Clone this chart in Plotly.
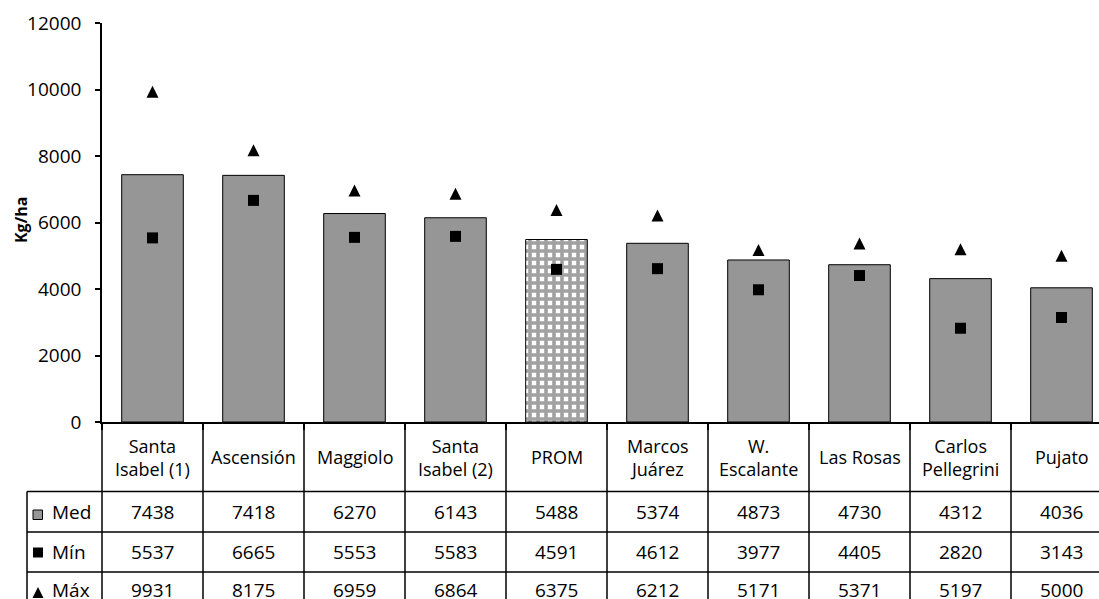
import plotly.graph_objects as go

# Yield per site (Kg/ha): median bar, minimum and maximum markers
categories = ["Santa Isabel (1)", "Ascensión", "Maggiolo", "Santa Isabel (2)", "PROM",
              "Marcos Juárez", "W. Escalante", "Las Rosas", "Carlos Pellegrini", "Pujato"]
category_labels = ["Santa<br>Isabel (1)", "Ascensión", "Maggiolo", "Santa<br>Isabel (2)", "PROM",
                   "Marcos<br>Juárez", "W.<br>Escalante", "Las Rosas", "Carlos<br>Pellegrini", "Pujato"]
med = [7438, 7418, 6270, 6143, 5488, 5374, 4873, 4730, 4312, 4036]
mins = [5537, 6665, 5553, 5583, 4591, 4612, 3977, 4405, 2820, 3143]
maxs = [9931, 8175, 6959, 6864, 6375, 6212, 5171, 5371, 5197, 5000]
row_labels = ["Med", "Mín", "Máx"]
y_ticks = [0, 2000, 4000, 6000, 8000, 10000, 12000]
highlight = "PROM"

W, H = 1099, 599
ML, MR, MT, MB = 102, 0, 23, 177
PW, PH = W - ML - MR, H - MT - MB
CAT_W = 101  # width of one category slot in px
X_RANGE = [-0.5, -0.5 + PW / CAT_W]

FONT = "Open Sans"
FS = 19
BAR_GRAY = "#969696"


def px_x(px):
    return (px - ML) / PW


def px_y(py):
    return (H - MB - py) / PH


def cat_x(v):
    # position along the category axis -> paper coordinate
    return (v - X_RANGE[0]) / (X_RANGE[1] - X_RANGE[0])


bar_colors = ["white" if c == highlight else BAR_GRAY for c in categories]
bar_patterns = ["+" if c == highlight else "" for c in categories]

fig = go.Figure()
fig.add_trace(go.Bar(
    x=categories, y=med, name="Med", width=0.61,
    marker=dict(color=bar_colors, line=dict(color="black", width=1),
                pattern=dict(shape=bar_patterns, fgcolor="black", size=8,
                             solidity=0.7, fillmode="overlay")),
))
fig.add_trace(go.Scatter(
    x=categories, y=mins, name="Mín", mode="markers",
    marker=dict(symbol="square", size=11, color="black"),
))
# equilateral-ish triangle centred on the value: flipped arrow pulled back by half its height
fig.add_trace(go.Scatter(
    x=categories, y=maxs, name="Máx", mode="markers",
    marker=dict(symbol="arrow-down", angle=180, size=12, standoff=6, color="black",
                line=dict(width=0)),
))

shapes = []
annotations = []
LW = 1.5
y_label_bot = px_y(491.5)
row_bots = [px_y(532), px_y(572), px_y(640)]
x_left = px_x(27)
x_right = cat_x(len(categories) - 0.5)

# table horizontal rules
for yb in [y_label_bot, row_bots[0], row_bots[1]]:
    shapes.append(dict(type="line", xref="paper", yref="paper", x0=x_left, x1=x_right,
                       y0=yb, y1=yb, line=dict(color="black", width=LW)))
# outer left edge of the row-header column
shapes.append(dict(type="line", xref="paper", yref="paper", x0=x_left, x1=x_left,
                   y0=y_label_bot, y1=row_bots[2], line=dict(color="black", width=LW)))
# column dividers
for i in range(len(categories) + 1):
    xv = cat_x(i - 0.5)
    shapes.append(dict(type="line", xref="paper", yref="paper", x0=xv, x1=xv,
                       y0=0, y1=row_bots[2], line=dict(color="black", width=LW)))

# category labels
for c, lab in zip(categories, category_labels):
    annotations.append(dict(x=c, xref="x", y=px_y(457), yref="paper", text=lab,
                            showarrow=False, font=dict(family=FONT, size=FS - 1, color="black"),
                            xanchor="center", yanchor="middle", align="center"))

# value rows
row_centres = [512, 552, 590]
for vals, yc in zip([med, mins, maxs], row_centres):
    for c, v in zip(categories, vals):
        annotations.append(dict(x=c, xref="x", y=px_y(yc), yref="paper", text=str(v),
                                showarrow=False, font=dict(family=FONT, size=FS, color="black"),
                                xanchor="center", yanchor="middle"))

# row headers with legend keys
for lab, yc in zip(row_labels, row_centres):
    annotations.append(dict(x=px_x(50), xref="paper", y=px_y(yc), yref="paper", text=lab,
                            showarrow=False, font=dict(family=FONT, size=FS, color="black"),
                            xanchor="left", yanchor="middle"))
shapes.append(dict(type="rect", xref="paper", yref="paper", x0=px_x(33), x1=px_x(42.5),
                   y0=px_y(510), y1=px_y(519.5), fillcolor=BAR_GRAY,
                   line=dict(color="black", width=1)))
shapes.append(dict(type="rect", xref="paper", yref="paper", x0=px_x(33), x1=px_x(43),
                   y0=px_y(547.5), y1=px_y(557.5), fillcolor="black",
                   line=dict(color="black", width=0)))
shapes.append(dict(type="path", xref="paper", yref="paper",
                   path=f"M {px_x(32.5)},{px_y(598)} L {px_x(43.5)},{px_y(598)} L {px_x(38)},{px_y(587)} Z",
                   fillcolor="black", line=dict(color="black", width=0)))

# axis title
annotations.append(dict(x=px_x(21), xref="paper", y=px_y(220), yref="paper", text="<b>Kg/ha</b>",
                        showarrow=False, textangle=-90,
                        font=dict(family=FONT, size=16, color="black"),
                        xanchor="center", yanchor="middle"))

fig.update_layout(
    width=W, height=H,
    margin=dict(l=ML, r=MR, t=MT, b=MB, pad=0),
    paper_bgcolor="white", plot_bgcolor="white",
    showlegend=False,
    font=dict(family=FONT, color="black"),
    shapes=shapes, annotations=annotations,
    xaxis=dict(range=X_RANGE, showticklabels=False, showgrid=False, zeroline=False,
               showline=True, linecolor="black", linewidth=LW,
               ticks="outside", tickson="boundaries", ticklen=6, tickwidth=LW, tickcolor="black"),
    yaxis=dict(range=[0, 12000], tickvals=y_ticks, ticktext=[str(v) for v in y_ticks],
               showgrid=False, zeroline=False,
               showline=True, linecolor="black", linewidth=LW,
               ticks="outside", ticklen=5, tickwidth=LW, tickcolor="black",
               ticklabelstandoff=10,
               tickfont=dict(family=FONT, size=FS, color="black")),
)

fig.write_html("out.html")
